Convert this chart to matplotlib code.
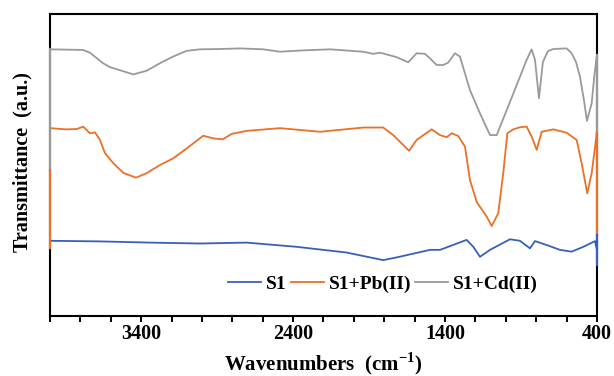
import numpy as np
import matplotlib
matplotlib.use("Agg")
import matplotlib.pyplot as plt
from matplotlib.ticker import MultipleLocator, FixedLocator

plt.rcParams['font.family'] = ['Liberation Serif', 'DejaVu Serif']
plt.rcParams['font.weight'] = 'bold'
plt.rcParams['mathtext.fontset'] = 'custom'
plt.rcParams['mathtext.rm'] = 'Liberation Serif:bold'
plt.rcParams['mathtext.bf'] = 'Liberation Serif:bold'

# FTIR spectra, wavenumber (cm-1) vs transmittance (a.u., stacked)
wn_s1 = [4000, 3671, 3342, 3013, 2706, 2376, 2047, 1807, 1718, 1499, 1433, 1258,
         1214, 1170, 1104, 973, 907, 841, 808, 731, 644, 567, 490, 413, 400]
t_s1 = [24.9, 24.7, 24.3, 24.0, 24.3, 22.9, 21.0, 18.5, 19.4, 21.9, 21.9, 25.2,
        22.9, 19.6, 21.9, 25.4, 24.9, 22.4, 24.8, 23.5, 21.9, 21.3, 22.9, 24.8, 21.9]

wn_pb = [4000, 3895, 3824, 3781, 3737, 3704, 3671, 3638, 3583, 3518, 3434, 3364,
         3276, 3189, 3100, 2991, 2925, 2863, 2804, 2705, 2486, 2223, 1938, 1807,
         1741, 1675, 1637, 1587, 1488, 1433, 1389, 1356, 1313, 1269, 1236, 1192,
         1126, 1093, 1050, 1017, 990, 951, 907, 863, 830, 797, 764, 688, 600, 534,
         501, 464, 435, 407, 400]
t_pb = [62.2, 61.8, 61.9, 62.7, 60.5, 60.8, 58.3, 53.9, 50.6, 47.4, 45.8, 47.3,
        50.0, 52.2, 55.5, 59.7, 58.8, 58.5, 60.3, 61.3, 62.2, 61.0, 62.4, 62.4,
        59.9, 56.6, 54.7, 58.3, 61.8, 59.9, 59.2, 60.5, 59.6, 56.1, 45.0, 37.8,
        32.9, 29.8, 34.0, 47.3, 60.5, 61.8, 62.5, 62.7, 59.4, 55.0, 61.0, 61.8, 60.7, 58.3,
        50.6, 40.6, 47.3, 58.3, 61.6]

wn_cd = [4000, 3895, 3783, 3737, 3651, 3605, 3528, 3452, 3364, 3276, 3190, 3100,
         3013, 2881, 2750, 2596, 2487, 2355, 2157, 1938, 1872, 1828, 1718, 1642,
         1587, 1532, 1499, 1455, 1412, 1379, 1335, 1302, 1236, 1170, 1104, 1060,
         994, 907, 863, 830, 808, 782, 756, 723, 688, 600, 567, 538, 512, 486,
         466, 435, 417, 400]
t_cd = [88.3, 88.2, 88.1, 87.2, 83.7, 82.4, 81.2, 80.0, 81.2, 83.7, 85.9, 87.8,
        88.3, 88.4, 88.6, 88.3, 87.5, 87.9, 88.3, 87.5, 86.8, 87.2, 85.7, 84.0,
        87.0, 86.8, 85.3, 83.1, 83.1, 83.9, 87.0, 85.9, 74.8, 67.1, 59.9, 59.9,
        68.2, 79.2, 84.8, 88.3, 84.8, 72.1, 84.1, 87.7, 88.4, 88.6, 87.0, 84.1, 79.2, 71.5,
        64.6, 70.4, 79.8, 86.4]

# vertical drops of each trace along the frame edges (y ranges)
edge_left = {'cd': (88.3, 48.3), 'pb': (48.3, 22.5)}
edge_right = {'cd': (86.4, 60.6), 'pb': (60.6, 26.8), 's1': (26.8, 16.9)}

colors = {'s1': '#3760BD', 'pb': '#EB7028', 'cd': '#9A9A9A'}
labels = {'s1': 'S1', 'pb': 'S1+Pb(II)', 'cd': 'S1+Cd(II)'}

fig = plt.figure(figsize=(6.14, 3.76), dpi=100)
ax = fig.add_axes([0.0814, 0.1596, 0.8909, 0.8032])

for key, wn, t in [('s1', wn_s1, t_s1), ('pb', wn_pb, t_pb), ('cd', wn_cd, t_cd)]:
    ax.plot(wn, t, color=colors[key], lw=1.3, label=labels[key])

for key, (y0, y1) in edge_left.items():
    ax.plot([4000, 4000], [y0, y1], color=colors[key], lw=1.6, clip_on=False, zorder=5)
for key, (y0, y1) in edge_right.items():
    ax.plot([400, 400], [y0, y1], color=colors[key], lw=1.6, clip_on=False, zorder=5)

ax.set_xlim(4000, 400)
ax.set_ylim(0, 100)
ax.xaxis.set_major_locator(FixedLocator([3400, 2400, 1400, 400]))
ax.xaxis.set_minor_locator(MultipleLocator(200))
ax.tick_params(axis='x', which='both', direction='out', length=4, width=1.4,
               labelsize=14.5, pad=2)
ax.set_yticks([])
for sp in ax.spines.values():
    sp.set_linewidth(1.5)
    sp.set_color('black')

fig.text(0.5269, 0.014, r'Wavenumbers  (cm$^{\mathbf{-1}}$)', ha='center', va='baseline',
         fontsize=15, fontweight='bold')
fig.text(0.037, 0.569, 'Transmittance  (a.u.)', rotation=90, ha='center', va='center',
         fontsize=14.5, fontweight='bold')

leg = ax.legend(loc='center', bbox_to_anchor=(0.609, 0.105), ncol=3, frameon=False,
                prop={'size': 14, 'weight': 'bold'}, handlelength=1.7,
                handletextpad=0.25, columnspacing=0.2)

fig.savefig('out.png', dpi=100)
